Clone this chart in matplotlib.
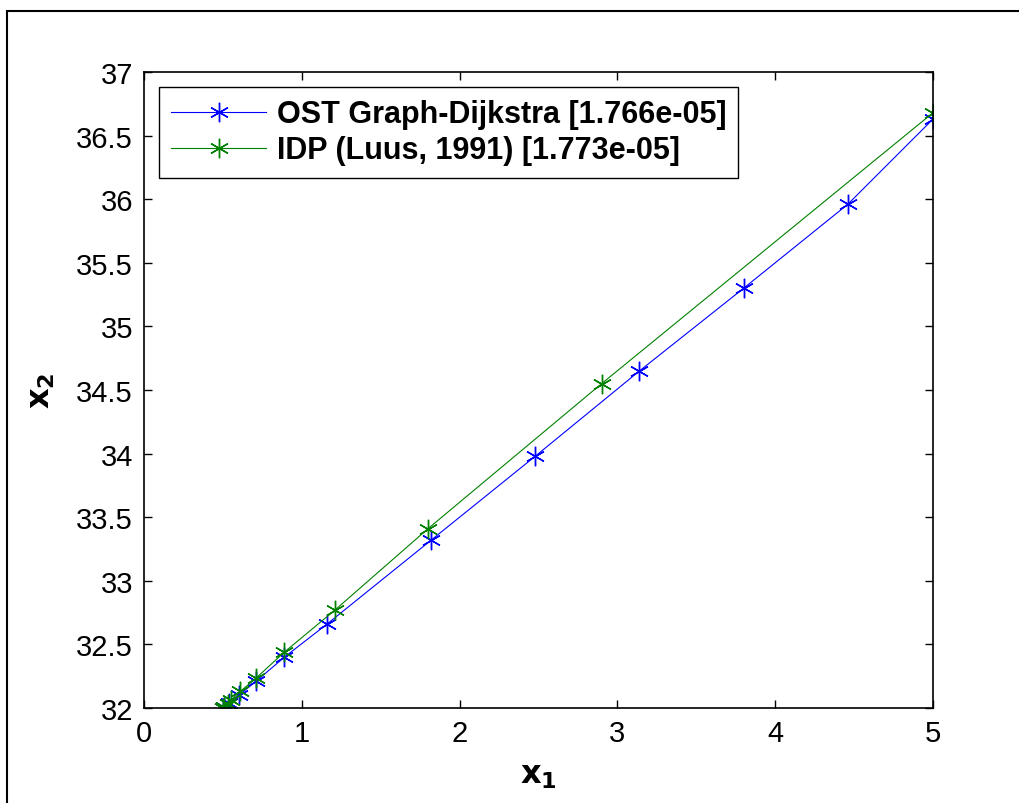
import matplotlib.pyplot as plt
from matplotlib.patches import Rectangle

plt.rcParams['font.family'] = ['Liberation Sans', 'DejaVu Sans']

# OST Graph-Dijkstra
ost_x1 = [0.50, 0.51, 0.54, 0.60, 0.71, 0.89, 1.16, 1.82, 2.48, 3.14, 3.80, 4.46, 5.00]
ost_x2 = [32.00, 32.01, 32.04, 32.10, 32.21, 32.40, 32.66, 33.32, 33.98, 34.65, 35.30, 35.96, 36.63]

# IDP (Luus, 1991)
idp_x1 = [0.50, 0.51, 0.53, 0.55, 0.61, 0.71, 0.89, 1.21, 1.80, 2.90, 5.00]
idp_x2 = [32.00, 32.01, 32.03, 32.06, 32.13, 32.235, 32.44, 32.77, 33.41, 34.55, 36.68]

labels = ["OST Graph-Dijkstra [1.766e-05]", "IDP (Luus, 1991) [1.773e-05]"]

W, H = 1019, 804
fig = plt.figure(figsize=(W / 100, H / 100), dpi=100)
ax = fig.add_axes([144 / W, 1 - 709 / H, 789 / W, 636 / H])

asterisk = (6, 2, 0)
ax.plot(ost_x1, ost_x2, color=(0, 0, 1), lw=0.8, marker=asterisk, ms=14, mew=1.0,
        label=labels[0])
ax.plot(idp_x1, idp_x2, color=(0, 0.5, 0), lw=0.8, marker=asterisk, ms=14, mew=1.0,
        label=labels[1])

ax.set_xlim(0, 5)
ax.set_ylim(32, 37)
ax.set_xticks([0, 1, 2, 3, 4, 5])
ax.set_yticks([32, 32.5, 33, 33.5, 34, 34.5, 35, 35.5, 36, 36.5, 37])
ax.set_yticklabels(["32", "32.5", "33", "33.5", "34", "34.5", "35", "35.5", "36", "36.5", "37"])
ax.tick_params(direction="in", length=6, width=1, top=True, right=True,
               labelsize=21, pad=8)
for s in ax.spines.values():
    s.set_linewidth(1.2)

ax.set_xlabel(r"$\mathbf{x_1}$", fontsize=23, labelpad=9)
ax.set_ylabel(r"$\mathbf{x_2}$", fontsize=23, labelpad=14)

leg = ax.legend(loc="upper left", bbox_to_anchor=(15 / 789, 1 - 15 / 636),
                prop={"weight": "bold", "size": 22}, frameon=True, fancybox=False,
                edgecolor="black", framealpha=1, borderaxespad=0, handlelength=3.1,
                handletextpad=0.35, labelspacing=0.2, borderpad=0.4)
leg.get_frame().set_linewidth(1.0)

fig.patches.append(Rectangle((7 / W, -0.1), 1.2, 1 - 12 / H + 0.1, transform=fig.transFigure,
                             fill=False, edgecolor="black", lw=1.5))

fig.savefig("out.png", dpi=100)
